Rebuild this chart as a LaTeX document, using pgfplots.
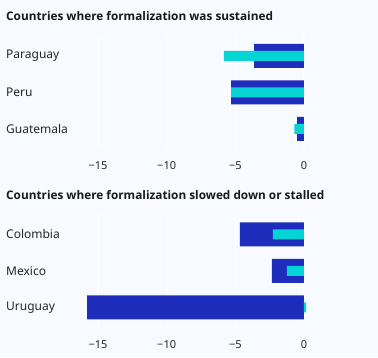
\documentclass[border=0pt]{standalone}
\usepackage{pgfplots}
\pgfplotsset{compat=1.18}
\usepackage{fontspec}
\setmainfont{Noto Sans}
\newfontfamily\titlefont{Open Sans}
\definecolor{bg}{HTML}{F7FAFE}
\definecolor{darkbar}{HTML}{1F2DBD}
\definecolor{cyanbar}{HTML}{05D3D4}
\pgfplotsset{panel/.style={
  scale only axis, width=274.6pt, height=114pt,
  xmin=-16, xmax=4, ymin=-0.57, ymax=2.55, y dir=reverse,
  xbar, bar shift=0pt,
  axis line style={draw=none}, major tick length=0pt,
  xtick={-15,-10,-5,0}, xticklabels={−15,−10,−5,0},
  ytick={0,1,2},
  xmajorgrids, grid style={white, line width=1.2pt},
  xticklabel style={anchor=north, inner sep=0pt, yshift=-12.5pt, font=\fontsize{11}{13}\selectfont, text=black!85},
  yticklabel style={anchor=west, inner sep=0pt, xshift=-78.3pt, font=\fontsize{12}{14}\selectfont, text=black!85},
  title style={at={(0,1)}, anchor=west, inner sep=0pt, xshift=-78.3pt, font=\titlefont\bfseries\fontsize{11.8}{14}\selectfont, text=black!90},
}}
\begin{document}
\begin{tikzpicture}
\path[use as bounding box, fill=bg] (0,0) rectangle (378pt,357pt);
\begin{axis}[panel, at={(84.3pt,208pt)}, anchor=south west,
  yticklabels={Paraguay,Peru,Guatemala},
  title={Countries where formalization was sustained}, title style={yshift=13pt}]
\addplot[fill=darkbar, draw=none, bar width=24pt] coordinates {(-3.64,0) (-5.3,1) (-0.5,2)};
\addplot[fill=cyanbar, draw=none, bar width=10pt] coordinates {(-5.83,0) (-5.3,1) (-0.7,2)};
\end{axis}
\begin{axis}[panel, at={(84.3pt,29.5pt)}, anchor=south west,
  yticklabels={Colombia,Mexico,Uruguay},
  title={Countries where formalization slowed down or stalled}, title style={yshift=12.5pt}]
\addplot[fill=darkbar, draw=none, bar width=24pt] coordinates {(-4.66,0) (-2.33,1) (-15.8,2)};
\addplot[fill=cyanbar, draw=none, bar width=10pt] coordinates {(-2.26,0) (-1.24,1) (0.15,2)};
\end{axis}
\end{tikzpicture}
\end{document}
